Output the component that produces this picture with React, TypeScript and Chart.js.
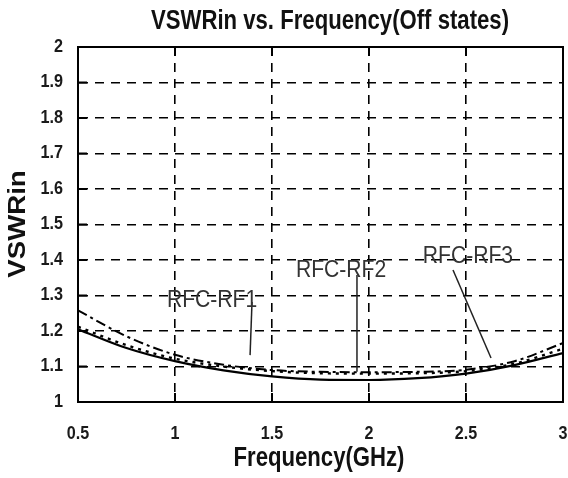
import React, { useEffect, useRef } from "react";
import { Chart, registerables } from "chart.js";

Chart.register(...registerables);

const freqGHz = [0.5, 0.75, 1.0, 1.25, 1.5, 1.75, 2.0, 2.25, 2.5, 2.75, 3.0];
const rfcRf1 = [1.205, 1.152, 1.115, 1.089, 1.072, 1.063, 1.062, 1.067, 1.08, 1.104, 1.138];
const rfcRf2 = [1.212, 1.16, 1.122, 1.1, 1.087, 1.081, 1.08, 1.081, 1.087, 1.108, 1.15];
const rfcRf3 = [1.258, 1.185, 1.133, 1.105, 1.09, 1.085, 1.084, 1.085, 1.091, 1.115, 1.166];

const xTickLabels = ["0.5", "1", "1.5", "2", "2.5", "3"];
const yTickLabels = ["1", "1.1", "1.2", "1.3", "1.4", "1.5", "1.6", "1.7", "1.8", "1.9", "2"];

const seriesNames = ["RFC-RF1", "RFC-RF2", "RFC-RF3"];
// annotation label positions and leader lines (data units)
const labelX = [1.191, 1.856, 2.51];
const labelY = [1.287, 1.37, 1.411];
const leaderFromX = [1.397, 1.938, 2.433];
const leaderFromY = [1.282, 1.358, 1.372];
const leaderToX = [1.387, 1.938, 2.629];
const leaderToY = [1.132, 1.085, 1.124];

const titleText = "VSWRin vs. Frequency(Off states)";
const xTitle = "Frequency(GHz)";
const yTitle = "VSWRin";

const FONT = '"Liberation Sans", Arial, sans-serif';

function drawText(ctx: any, text: string, x: number, y: number, font: string, sx: number, color: string, align = "center", rot = 0) {
  ctx.save();
  ctx.translate(x, y);
  if (rot) ctx.rotate(rot);
  ctx.scale(sx, 1);
  ctx.font = font;
  ctx.fillStyle = color;
  ctx.textAlign = align;
  ctx.textBaseline = "middle";
  ctx.fillText(text, 0, 0);
  ctx.restore();
}

export default function App() {
  const ref = useRef<HTMLCanvasElement | null>(null);
  useEffect(() => {
    if (!ref.current) return;
    const overlay = {
      id: "overlay",
      afterDraw(chart: any) {
        const { ctx, chartArea: a, scales } = chart;
        const xs = scales.x;
        const ys = scales.y;
        ctx.save();
        // frame
        ctx.setLineDash([]);
        ctx.strokeStyle = "#000";
        ctx.lineWidth = 2;
        ctx.strokeRect(a.left, a.top, a.right - a.left, a.bottom - a.top);
        xTickLabels.forEach((t) => {
          const px = xs.getPixelForValue(parseFloat(t));
          ctx.beginPath();
          ctx.moveTo(px, a.top);
          ctx.lineTo(px, a.top + 9);
          ctx.moveTo(px, a.bottom);
          ctx.lineTo(px, a.bottom - 9);
          ctx.stroke();
          drawText(ctx, t, px, a.bottom + 32, `bold 19px ${FONT}`, 0.85, "#1a1a1a");
        });
        yTickLabels.forEach((t) => {
          const py = ys.getPixelForValue(parseFloat(t));
          ctx.beginPath();
          ctx.moveTo(a.left, py);
          ctx.lineTo(a.left + 9, py);
          ctx.stroke();
          drawText(ctx, t, a.left - 15, py, `bold 18px ${FONT}`, 0.9, "#1a1a1a", "right");
        });
        // annotations
        ctx.lineWidth = 1.5;
        ctx.strokeStyle = "#222";
        for (let i = 0; i < seriesNames.length; i++) {
          ctx.beginPath();
          ctx.moveTo(xs.getPixelForValue(leaderFromX[i]), ys.getPixelForValue(leaderFromY[i]));
          ctx.lineTo(xs.getPixelForValue(leaderToX[i]), ys.getPixelForValue(leaderToY[i]));
          ctx.stroke();
        }
        for (let i = 0; i < seriesNames.length; i++) {
          drawText(ctx, seriesNames[i], xs.getPixelForValue(labelX[i]), ys.getPixelForValue(labelY[i]), `24px ${FONT}`, 0.88, "#333");
        }
        // titles
        drawText(ctx, titleText, 330, 22, `bold 27px ${FONT}`, 0.82, "#111");
        drawText(ctx, xTitle, 319, 459, `bold 27px ${FONT}`, 0.82, "#111");
        drawText(ctx, yTitle, 19, 224, `bold 23px ${FONT}`, 1.2, "#111", "center", -Math.PI / 2);
        ctx.restore();
      },
    };
    const gridCommon = {
      color: "#000",
      lineWidth: 1.6,
      drawTicks: false,
    };
    const chart = new Chart(ref.current, {
      type: "line",
      data: {
        datasets: [
          {
            label: seriesNames[0],
            data: freqGHz.map((x, i) => ({ x, y: rfcRf1[i] })),
            borderColor: "#000",
            borderWidth: 2.2,
            pointRadius: 0,
            cubicInterpolationMode: "monotone",
          },
          {
            label: seriesNames[1],
            data: freqGHz.map((x, i) => ({ x, y: rfcRf2[i] })),
            borderColor: "#000",
            borderWidth: 2.4,
            borderDash: [3, 5],
            pointRadius: 0,
            cubicInterpolationMode: "monotone",
          },
          {
            label: seriesNames[2],
            data: freqGHz.map((x, i) => ({ x, y: rfcRf3[i] })),
            borderColor: "#000",
            borderWidth: 2,
            borderDash: [10, 4, 3, 4],
            pointRadius: 0,
            cubicInterpolationMode: "monotone",
          },
        ],
      },
      options: {
        animation: false,
        responsive: false,
        maintainAspectRatio: false,
        layout: { padding: { top: 47, right: 5, left: 0, bottom: 0 } },
        plugins: { legend: { display: false }, title: { display: false }, tooltip: { enabled: false } },
        scales: {
          x: {
            type: "linear",
            min: 0.5,
            max: 3,
            grid: gridCommon,
            border: { display: true, dash: [9, 7], color: "#000", width: 2 },
            afterFit: (s: any) => {
              s.height = 76;
              s.paddingLeft = 0;
              s.paddingRight = 0;
            },
            afterBuildTicks: (s: any) => {
              s.ticks = xTickLabels.map((t) => ({ value: parseFloat(t) }));
            },
            ticks: { display: false },
          },
          y: {
            type: "linear",
            min: 1,
            max: 2,
            grid: gridCommon,
            border: { display: true, dash: [9, 7], color: "#000", width: 2 },
            afterFit: (s: any) => {
              s.width = 78;
              s.paddingTop = 0;
              s.paddingBottom = 0;
            },
            afterBuildTicks: (s: any) => {
              s.ticks = yTickLabels.map((t) => ({ value: parseFloat(t) }));
            },
            ticks: { display: false },
          },
        },
      },
      plugins: [overlay],
    });
    return () => chart.destroy();
  }, []);
  return (
    <div style={{ position: "absolute", left: 0, top: 0, width: 568, height: 478, background: "#fff" }}>
      <canvas ref={ref} width={568} height={478} style={{ width: 568, height: 478 }} />
    </div>
  );
}
